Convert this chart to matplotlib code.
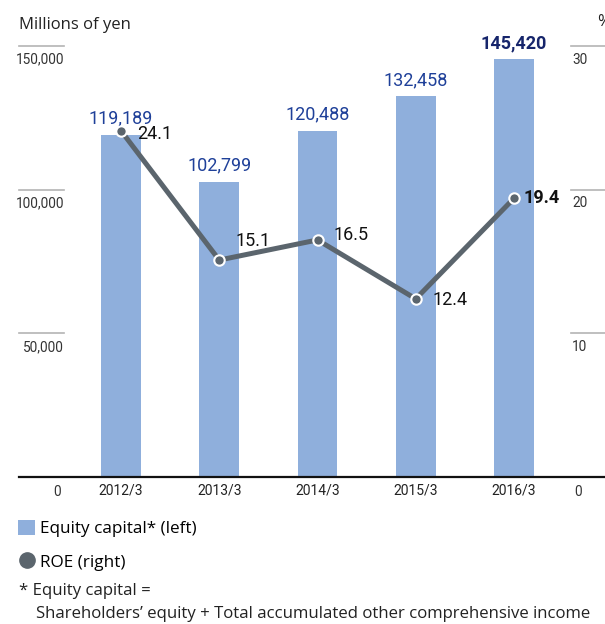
import matplotlib
matplotlib.use("Agg")
import matplotlib.pyplot as plt
from matplotlib.patches import Patch
from matplotlib.lines import Line2D
from matplotlib.transforms import blended_transform_factory

# Equity capital (millions of yen) and ROE (%) by fiscal year end
years = ["2012/3", "2013/3", "2014/3", "2015/3", "2016/3"]
equity = [119189, 102799, 120488, 132458, 145420]
roe = [24.1, 15.1, 16.5, 12.4, 19.4]

left_ticks = [50000, 100000, 150000]
right_ticks = [10, 20, 30]

# offsets (points) of the ROE labels from their markers
roe_offsets = [(11.5, -2.5), (12, 14), (11.5, 3.5), (12, -1), (7, 0)]

BAR = "#8fafdc"
LINE = "#5b656d"
BLUE = "#1f4099"
NAVY = "#16256b"
GRID = "#b4b4b4"
NUM = ["Roboto", "Open Sans", "DejaVu Sans"]
REG = ["Open Sans", "DejaVu Sans"]

W, H = 605, 624
fig = plt.figure(figsize=(W / 100, H / 100), dpi=100)
ax = fig.add_axes([19 / W, (H - 477) / H, (W - 19) / W, (477 - 46) / H])
ax2 = ax.twinx()

x = list(range(len(years)))
bars = ax.bar(x, equity, width=0.407, color=BAR, zorder=2)
ax.set_ylim(0, 150000)
ax.set_xlim(-1.038, 4.926)
ax2.set_ylim(0, 30)

for a in (ax, ax2):
    for s in a.spines.values():
        s.set_visible(False)
    a.set_yticks([])
ax.spines["bottom"].set_visible(True)
ax.spines["bottom"].set_linewidth(1.6)
ax.spines["bottom"].set_color("#111111")

ax.set_xticks(x)
ax.set_xticklabels(years, fontsize=10, family=NUM, color="#222222")
ax.tick_params(axis="x", length=0, pad=5)

# short gridline stubs with labels beneath them on both sides
tl = blended_transform_factory(ax.transAxes, ax.transData)
for t in left_ticks:
    ax.axhline(t, xmin=0, xmax=45 / 586, color=GRID, lw=1.2, clip_on=False)
    ax.text(45 / 586, t - 2300, f"{t:,}", transform=tl, ha="right", va="top",
            fontsize=9.8, family=NUM, color="#333333")
ax.text(42 / 586, -2800, "0", transform=tl, ha="right", va="top",
        fontsize=9.8, family=NUM, color="#333333")

tr = blended_transform_factory(ax2.transAxes, ax2.transData)
for t in right_ticks:
    ax2.axhline(t, xmin=552 / 586, xmax=1, color=GRID, lw=1.2, clip_on=False)
    ax2.text(553 / 586, t - 0.46, f"{t}", transform=tr, ha="left", va="top",
             fontsize=9.8, family=NUM, color="#333333")
ax2.text(555 / 586, -0.56, "0", transform=tr, ha="left", va="top",
         fontsize=9.8, family=NUM, color="#333333")

# bar value labels
labels = ax.bar_label(bars, labels=[f"{v:,}" for v in equity], padding=5,
                      fontsize=13, family=NUM, color=BLUE)
labels[-1].set_fontweight("bold")
labels[-1].set_color(NAVY)

# ROE line
ax2.plot(x, roe, color=LINE, lw=3.6, marker="o", ms=7.5, mfc=LINE,
         mec="white", mew=1.5, zorder=3, solid_capstyle="round")
for i, (v, off) in enumerate(zip(roe, roe_offsets)):
    last = i == len(roe) - 1
    ax2.annotate(f"{v}", (x[i], v), xytext=off, textcoords="offset points",
                 ha="left", va="center", fontsize=13, family=NUM,
                 color="#111111", fontweight="bold" if last else "normal")

fig.text(19 / W, 1 - 25 / H, "Millions of yen", ha="left", va="center",
         fontsize=12, family=REG, color="#222222")
fig.text(597 / W, 1 - 22 / H, "%", ha="left", va="center",
         fontsize=12, family=REG, color="#222222")

handles = [Patch(facecolor=BAR, edgecolor="none"),
           Line2D([], [], marker="o", ls="none", color=LINE, ms=11)]
fig.legend(handles, ["Equity capital* (left)", "ROE (right)"],
           loc="upper left", bbox_to_anchor=(18 / W, 1 - 520 / H),
           frameon=False, prop={"family": REG, "size": 12.3},
           handlelength=1.0, handleheight=1.0, handletextpad=0.3,
           labelspacing=0.95, borderpad=0, borderaxespad=0)

fig.text(19 / W, 1 - 591 / H, "* Equity capital =", ha="left", va="center",
         fontsize=12.1, family=REG, color="#222222")
fig.text(36 / W, 1 - 614 / H,
         "Shareholders\u2019 equity + Total accumulated other comprehensive income",
         ha="left", va="center", fontsize=12.1, family=REG, color="#222222")

fig.savefig("out.png", dpi=100)
